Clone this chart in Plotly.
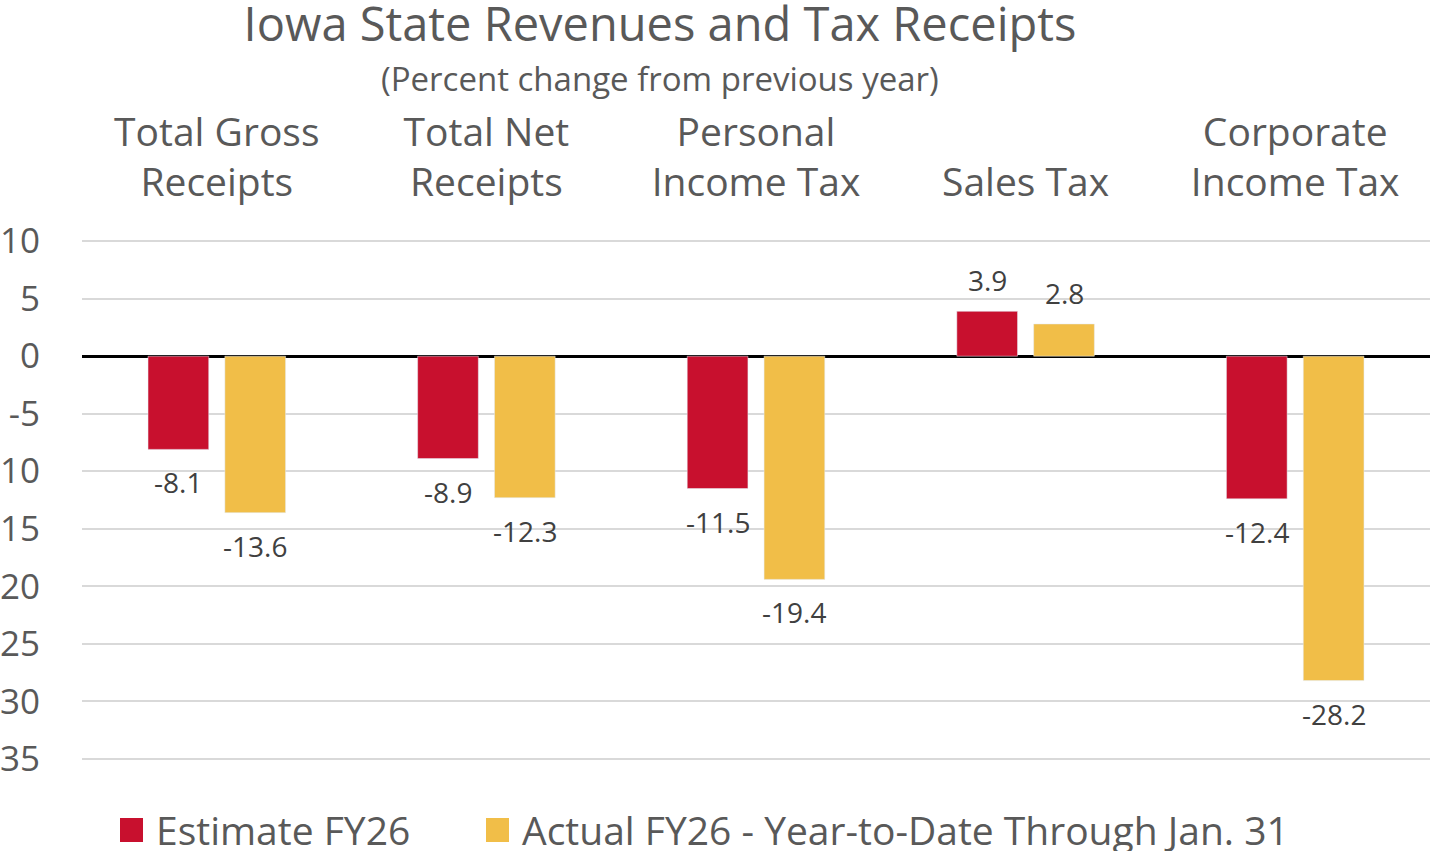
import plotly.graph_objects as go

categories = ["Total Gross<br>Receipts", "Total Net<br>Receipts", "Personal<br>Income Tax",
              "Sales Tax", "Corporate<br>Income Tax"]
estimate_fy26 = [-8.1, -8.9, -11.5, 3.9, -12.4]
actual_fy26 = [-13.6, -12.3, -19.4, 2.8, -28.2]
series_names = ["Estimate FY26", "Actual FY26 - Year-to-Date Through Jan. 31"]
y_ticks = [10, 5, 0, -5, -10, -15, -20, -25, -30, -35]

RED = "#C8102E"
GOLD = "#F1BE48"
TXT = "#595959"
FONT = "Open Sans"

W, H = 1430, 851
L, R, T, B = 82, 0, 240, 91
pw, ph = W - L - R, H - T - B

fig = go.Figure()
fig.add_trace(go.Bar(x=categories, y=estimate_fy26, name=series_names[0],
                     marker_color=RED, showlegend=False))
fig.add_trace(go.Bar(x=categories, y=actual_fy26, name=series_names[1],
                     marker_color=GOLD, showlegend=False))

def px_x(x):
    return (x - L) / pw

def px_y(y):
    return (H - B - y) / ph

annotations = []
slot = pw / len(categories) * (1 - 0.43) / 2
for vals, dx in ((estimate_fy26, -slot / 2), (actual_fy26, slot / 2)):
    for c, v in zip(categories, vals):
        annotations.append(dict(x=c, y=v, xref="x", yref="y", text=f"{v}",
                                showarrow=False, xshift=dx,
                                yshift=31 if v > 0 else -33,
                                font=dict(family=FONT, size=28, color="#404040")))

annotations.append(dict(x=px_x(660), y=px_y(78), xref="paper", yref="paper",
                        text="(Percent change from previous year)", showarrow=False,
                        xanchor="center", yanchor="middle",
                        font=dict(family=FONT, size=33, color=TXT)))

# manual legend
shapes = []
for x0, col, name in ((120, RED, series_names[0]), (486, GOLD, series_names[1])):
    shapes.append(dict(type="rect", xref="paper", yref="paper",
                       x0=px_x(x0), x1=px_x(x0 + 23), y0=px_y(818), y1=px_y(842),
                       fillcolor=col, line=dict(width=0)))
    annotations.append(dict(x=px_x(x0 + 34), y=px_y(829), xref="paper", yref="paper",
                            text=name, showarrow=False, xanchor="left", yanchor="middle",
                            font=dict(family=FONT, size=39, color=TXT)))

fig.update_layout(
    width=W, height=H,
    margin=dict(l=L, r=R, t=T, b=B, autoexpand=False),
    paper_bgcolor="white", plot_bgcolor="white",
    barmode="group", bargap=0.43, bargroupgap=0.21,
    title=dict(text="Iowa State Revenues and Tax Receipts", x=660 / W, xanchor="center",
               y=1 - 25 / H, yanchor="middle", xref="container", yref="container",
               font=dict(family=FONT, size=47, color=TXT)),
    xaxis=dict(side="top", tickfont=dict(family=FONT, size=39, color=TXT),
               ticks="outside", ticklen=27, tickcolor="rgba(0,0,0,0)",
               showline=False, showgrid=False, automargin=False),
    yaxis=dict(range=[-35.1, 10.1], tickvals=y_ticks, ticktext=[str(v) for v in y_ticks],
               tickfont=dict(family=FONT, size=35, color=TXT),
               ticks="outside", ticklen=34, tickcolor="rgba(0,0,0,0)",
               showgrid=True, gridcolor="#D9D9D9", gridwidth=1.5,
               zeroline=True, zerolinecolor="black", zerolinewidth=2.5,
               showline=False, automargin=False),
    annotations=annotations,
    shapes=shapes,
    showlegend=False,
)

fig.write_html("out.html", config={"displayModeBar": False},
               post_script="document.body.style.margin='0';")
